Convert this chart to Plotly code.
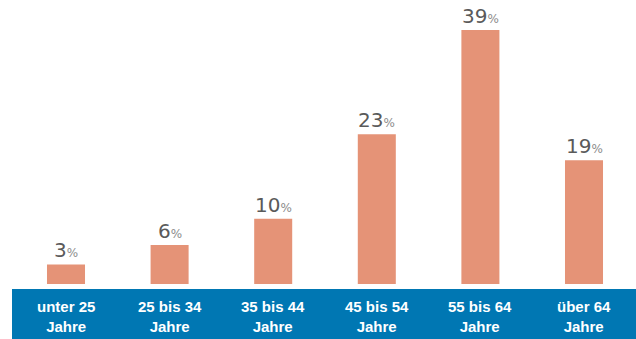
import plotly.graph_objects as go

# Age groups and their share of respondents (in %)
categories = ["unter 25<br>Jahre", "25 bis 34<br>Jahre", "35 bis 44<br>Jahre",
              "45 bis 54<br>Jahre", "55 bis 64<br>Jahre", "über 64<br>Jahre"]
values = [3, 6, 10, 23, 39, 19]

BAR_COLOR = "#E59377"
BAND_COLOR = "#0077B3"
NUM_COLOR = "#5A5A5A"
PCT_COLOR = "#8C8C8C"

W, H = 636, 339
BOTTOM = 55          # space under the baseline for the category band
PLOT_H = H - BOTTOM

x_idx = list(range(len(categories)))

fig = go.Figure()
fig.add_trace(go.Bar(
    x=x_idx, y=values, width=0.367,
    marker=dict(color=BAR_COLOR, line=dict(width=0)),
    hoverinfo="skip",
))

# value labels above each bar
for i, v in zip(x_idx, values):
    fig.add_annotation(
        x=i, y=v, xref="x", yref="y",
        text=f"<span style='color:{NUM_COLOR};font-size:20px'>{v}</span>"
             f"<span style='color:{PCT_COLOR};font-size:12px'>%</span>",
        showarrow=False, yanchor="bottom", yshift=0,
        font=dict(family="DejaVu Sans, sans-serif"),
    )

# category labels inside the blue band
for i, c in zip(x_idx, categories):
    fig.add_annotation(
        x=i, y=-32 / PLOT_H, xref="x", yref="paper",
        text=f"<b>{c}</b>", showarrow=False, yanchor="middle",
        font=dict(family="Liberation Sans, Arial, sans-serif", size=15, color="white"),
        align="center",
    )

# blue band under the baseline
fig.add_shape(
    type="rect", xref="paper", yref="paper",
    x0=12 / W, x1=1, y0=-BOTTOM / PLOT_H, y1=-5 / PLOT_H,
    fillcolor=BAND_COLOR, line=dict(width=0), layer="below",
)

step = 103.6
first = 66
fig.update_layout(
    width=W, height=H,
    margin=dict(l=0, r=0, t=0, b=BOTTOM),
    paper_bgcolor="white", plot_bgcolor="white",
    showlegend=False,
    xaxis=dict(range=[-first / step, (W - first) / step], visible=False, fixedrange=True),
    yaxis=dict(range=[0, PLOT_H / 254 * 39], visible=False, fixedrange=True),
)

fig.write_html("out.html", config={"displayModeBar": False})
